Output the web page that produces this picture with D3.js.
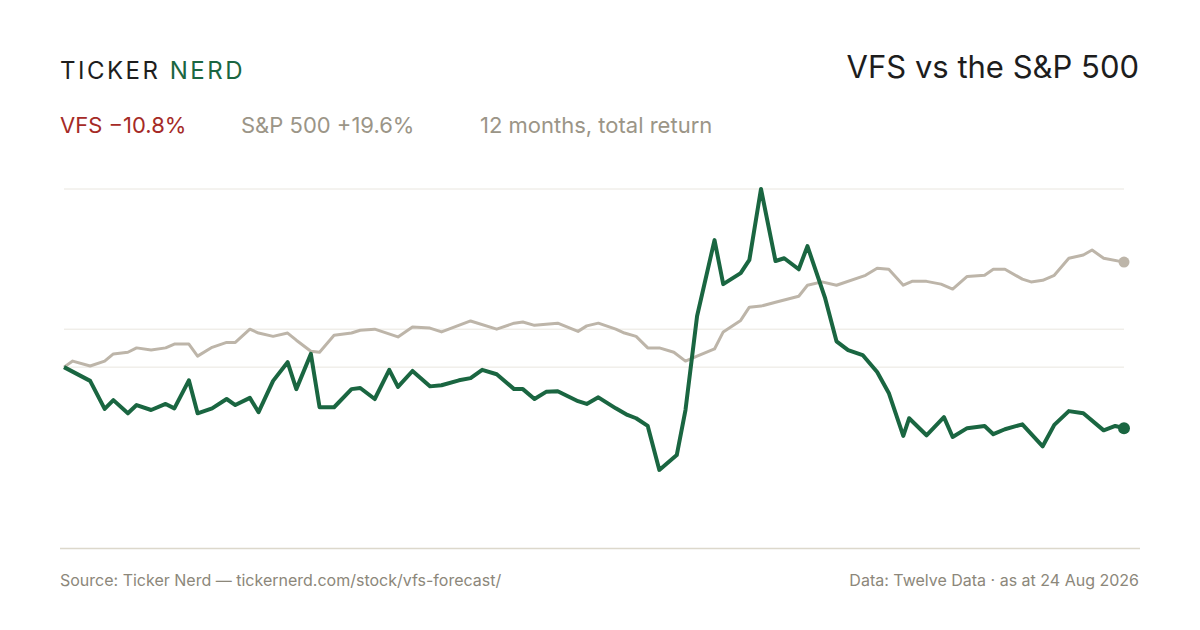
<!DOCTYPE html>
<html><head><meta charset="utf-8">
<script src="https://cdn.jsdelivr.net/npm/d3@7"></script>
<style>body{margin:0;background:#fff}svg{display:block;font-family:Inter,"Noto Sans",sans-serif}</style>
</head><body><svg id="c" width="1200" height="630"></svg>
<script>
// days since start, % total return
const vfsDays = [0,9,14,17,22,25,30,35,38,43,46,51,56,59,64,67,72,77,80,85,88,93,99,102,107,112,115,120,126,130,136,140,144,149,155,158,162,166,170,177,180,184,190,194,197,201,205,211,214,218,224,227,233,236,240,245,248,253,256,262,266,270,275,280,284,289,291,297,303,306,311,317,320,324,330,337,341,346,351,358,362,365]
const vfsVals = [0,-2.5,-7.6,-6.0,-8.4,-6.9,-7.8,-6.7,-7.5,-2.4,-8.4,-7.5,-5.8,-6.9,-5.6,-8.2,-2.5,0.9,-4.0,2.4,-7.3,-7.3,-4.0,-3.8,-5.8,-0.5,-3.6,-0.7,-3.5,-3.3,-2.4,-2.0,-0.5,-1.3,-4.0,-4.0,-5.8,-4.5,-4.4,-6.2,-6.7,-5.5,-7.5,-8.7,-9.3,-10.7,-18.7,-16.0,-7.8,9.3,23.1,15.1,17.1,19.5,32.4,19.3,19.8,17.8,22.0,12.7,4.7,3.1,2.2,-0.9,-4.7,-12.5,-9.3,-12.4,-9.1,-12.7,-11.1,-10.7,-12.2,-11.3,-10.4,-14.4,-10.5,-8.0,-8.4,-11.5,-10.7,-11.1]
const spxDays = [0,3,9,14,17,22,25,30,35,38,43,46,51,56,59,64,67,72,77,80,85,88,93,99,102,107,115,120,126,130,140,149,155,158,162,170,177,180,184,190,193,197,201,205,210,214,218,224,227,233,236,240,245,253,256,261,266,276,280,284,289,292,297,302,306,311,317,320,324,330,333,337,341,346,351,354,358,365]
const spxVals = [0,1.1,0.2,1.1,2.4,2.7,3.5,3.1,3.5,4.2,4.2,2.0,3.6,4.5,4.5,6.9,6.2,5.6,6.2,4.9,2.9,2.7,5.8,6.2,6.7,6.9,5.5,7.3,7.1,6.4,8.4,6.9,8.0,8.2,7.6,8.0,6.5,7.5,8.0,6.9,6.2,5.6,3.5,3.5,2.7,1.1,2.0,3.3,6.4,8.5,10.9,11.1,11.8,12.9,14.9,15.5,14.9,16.7,18.0,17.8,14.9,15.6,15.6,15.1,14.2,16.5,16.7,17.8,17.8,16.0,15.5,15.8,16.7,19.8,20.4,21.3,19.8,19.1]
const gridVals = [32.4, 6.9, 0]

const svg = d3.select('#c')
const x = d3.scaleLinear().domain([0, 365]).range([64, 1124])
const y = d3.scaleLinear().domain([-32.9, 32.4]).range([548, 189])

svg.selectAll('line.g').data(gridVals).enter().append('line')
    .attr('x1', 64).attr('x2', 1124)
    .attr('y1', d => y(d)).attr('y2', d => y(d))
    .style('stroke', '#e9e6df').style('stroke-width', 1)
svg.append('line').attr('x1', 60).attr('x2', 1140).attr('y1', 548.5).attr('y2', 548.5)
    .style('stroke', '#dcd8cc').style('stroke-width', 1.5)

const line = d3.line().x(d => x(d[0])).y(d => y(d[1]))
const spx = d3.zip(spxDays, spxVals)
const vfs = d3.zip(vfsDays, vfsVals)
svg.append('path').attr('d', line(spx)).style('fill', 'none').style('stroke', '#bdb5a9')
    .style('stroke-width', 3).style('stroke-linejoin', 'round')
svg.append('path').attr('d', line(vfs)).style('fill', 'none').style('stroke', '#1a6641')
    .style('stroke-width', 4).style('stroke-linejoin', 'round')
svg.append('circle').attr('cx', x(365)).attr('cy', y(spxVals[spxVals.length - 1])).attr('r', 5.5).style('fill', '#bdb5a9')
svg.append('circle').attr('cx', x(365)).attr('cy', y(vfsVals[vfsVals.length - 1])).attr('r', 6).style('fill', '#1a6641')

// header
const logo = svg.append('text').attr('x', 60).attr('y', 79).style('font-size', '24px').style('letter-spacing', '2.5px')
logo.append('tspan').text('TICKER ').style('fill', '#1d1d1d')
logo.append('tspan').text('NERD').style('fill', '#1a6641')
svg.append('text').attr('x', 1139).attr('y', 78).attr('text-anchor', 'end')
    .style('font-size', '31px').style('fill', '#1d1d1d').text('VFS vs the S&P 500')
const sub = svg.append('text').attr('y', 133).style('font-size', '22px')
sub.append('tspan').attr('x', 60).style('fill', '#a52a26').text('VFS \u221210.8%')
sub.append('tspan').attr('x', 241).style('fill', '#9b9587').text('S&P 500 +19.6%')
sub.append('tspan').attr('x', 480).style('fill', '#9b9587').text('12 months, total return')

svg.append('text').attr('x', 60).attr('y', 586).style('font-size', '16px').style('fill', '#8c877a')
    .text('Source: Ticker Nerd \u2014 tickernerd.com/stock/vfs-forecast/')
svg.append('text').attr('x', 1139).attr('y', 586).attr('text-anchor', 'end').style('font-size', '16px').style('fill', '#8c877a')
    .text('Data: Twelve Data \u00b7 as at 24 Aug 2026')
</script></body></html>
